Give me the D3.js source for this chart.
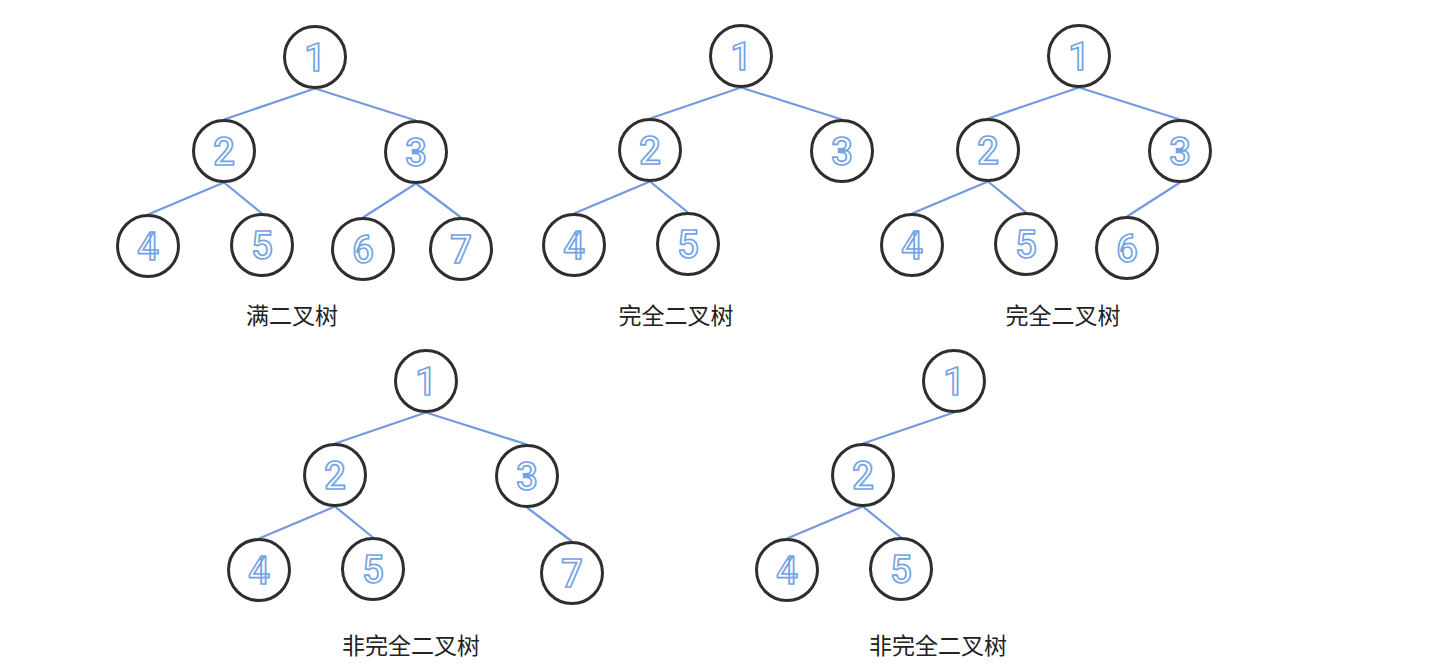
<!DOCTYPE html>
<html>
<head>
<meta charset="utf-8">
<script src="https://cdn.jsdelivr.net/npm/d3@7"></script>
<style>
  html, body { margin: 0; padding: 0; background: #fff; }
  svg { display: block; }
</style>
</head>
<body>
<svg id="trees" width="1453" height="669"></svg>
<script>
// which heap slots (1..7) exist in each tree, and its caption
const tree_titles = ["满二叉树", "完全二叉树", "完全二叉树", "非完全二叉树", "非完全二叉树"];
const tree_nodes = [
  [1, 2, 3, 4, 5, 6, 7],
  [1, 2, 3, 4, 5],
  [1, 2, 3, 4, 5, 6],
  [1, 2, 3, 4, 5, 7],
  [1, 2, 4, 5]
];

const svg = d3.select("svg#trees");
const node_r = 30.5;
const edge_color = '#7399e0';
const digit_color = '#73a3e3';
const ring_color = '#2e2e2e';

// panel origin = where the root sits, plus caption placement
const panels = [
  { x: 315, y: 57,  lx: 292,  ly: 314 },
  { x: 741, y: 56,  lx: 676,  ly: 314 },
  { x: 1079, y: 56, lx: 1063, ly: 314 },
  { x: 426, y: 381, lx: 411,  ly: 644 },
  { x: 954, y: 381, lx: 938,  ly: 644 }
];

// heap slot -> offset from root
const slot_x = d3.scaleOrdinal([1, 2, 3, 4, 5, 6, 7], [0, -91, 101, -167, -53, 48, 146]);
const slot_y = d3.scaleOrdinal([1, 2, 3, 4, 5, 6, 7], [0, 94, 95, 189, 188, 192, 192]);

tree_nodes.forEach((nodes, t) => {
  const p = panels[t];
  const g = svg.append("g")
    .attr("class", "tree")
    .attr("transform", `translate(${p.x}, ${p.y})`);

  const links = nodes.filter(d => d > 1).map(d => ({ source: Math.floor(d / 2), target: d }));

  g.selectAll("line.edge")
    .data(links)
    .join("line")
    .attr("class", "edge")
    .attr("x1", d => slot_x(d.source))
    .attr("y1", d => slot_y(d.source) + node_r + 1)
    .attr("x2", d => slot_x(d.target))
    .attr("y2", d => slot_y(d.target) - node_r - 1)
    .attr("stroke", edge_color)
    .attr("stroke-width", 2.2);

  const node = g.selectAll("g.node")
    .data(nodes)
    .join("g")
    .attr("class", "node")
    .attr("transform", d => `translate(${slot_x(d)}, ${slot_y(d)})`);

  node.append("circle")
    .attr("r", node_r)
    .attr("fill", "#fff")
    .attr("stroke", ring_color)
    .attr("stroke-width", 3);

  node.append("text")
    .attr("text-anchor", "middle")
    .attr("dy", "0.36em")
    .attr("font-family", "Roboto, sans-serif")
    .attr("font-weight", 500)
    .attr("font-size", 38)
    .attr("fill", "#fff")
    .attr("stroke", digit_color)
    .attr("stroke-width", 1.7)
    .text(d => d);

  svg.append("text")
    .attr("x", p.lx)
    .attr("y", p.ly)
    .attr("text-anchor", "middle")
    .attr("dominant-baseline", "central")
    .attr("font-family", "Noto Sans CJK SC, sans-serif")
    .attr("font-size", 23)
    .attr("fill", "#222")
    .text(tree_titles[t]);
});
</script>
</body>
</html>
